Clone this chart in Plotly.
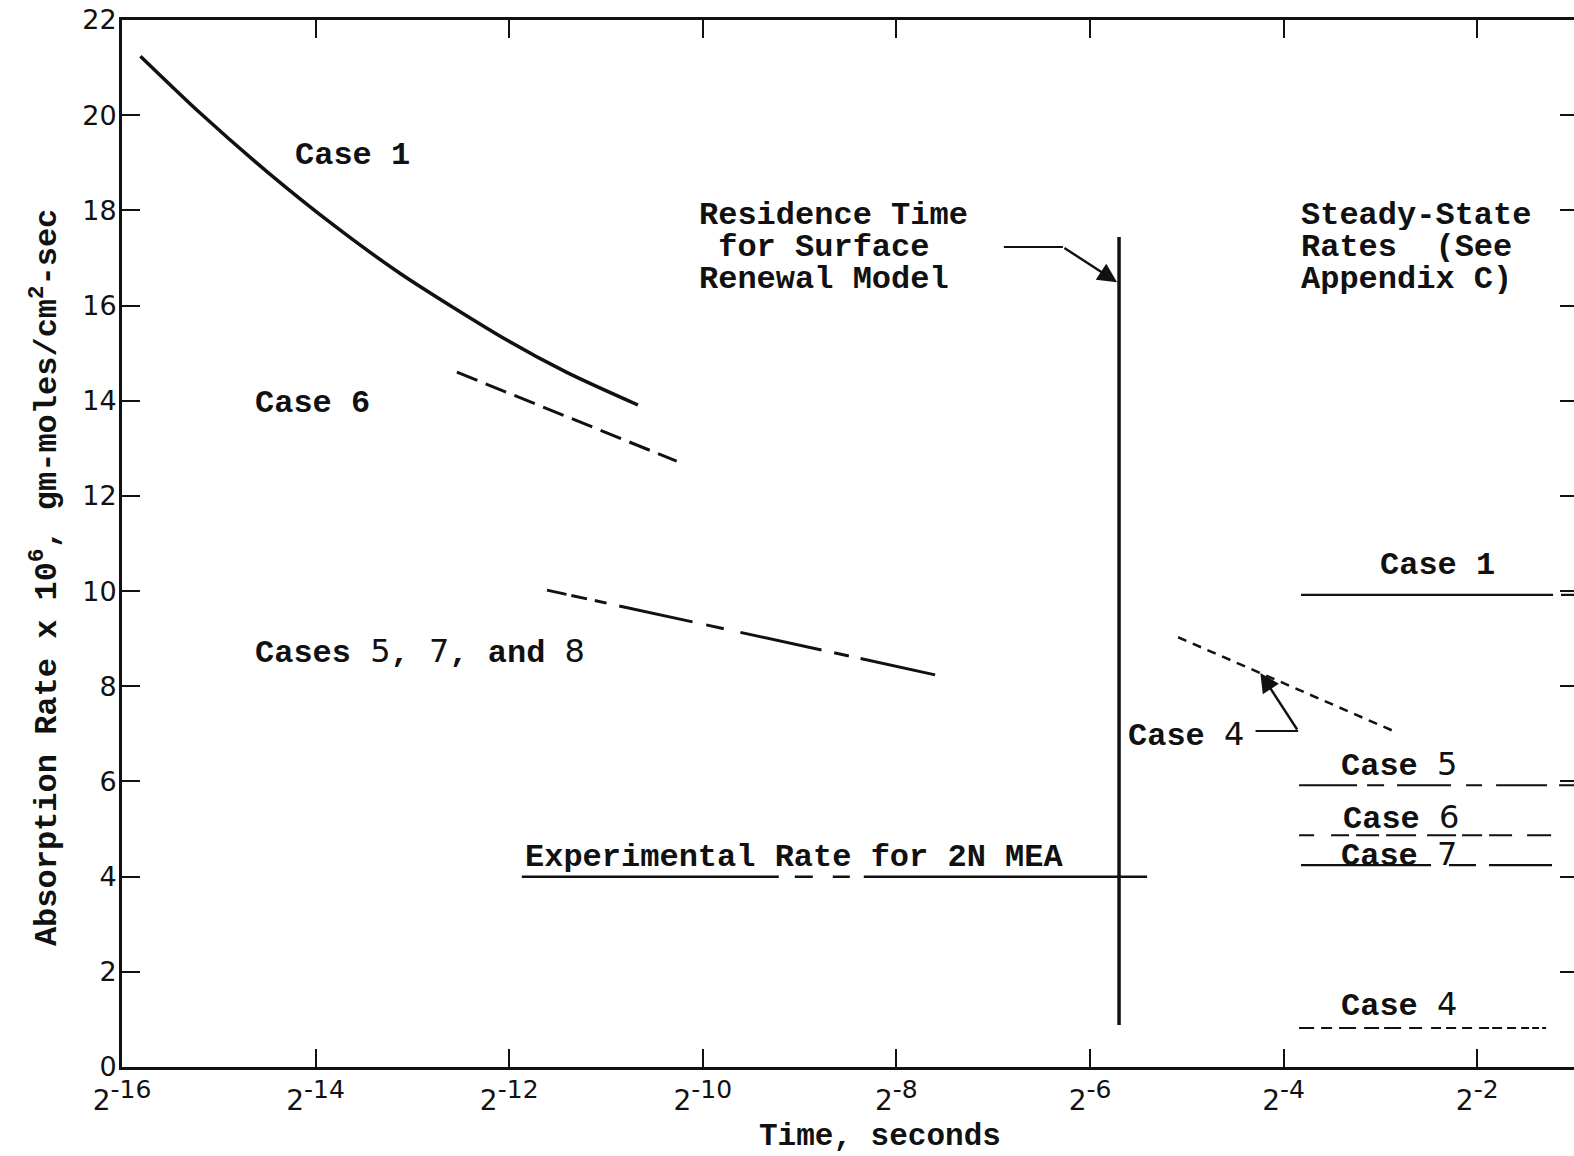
import numpy as np
import plotly.graph_objects as go

# ---- data (time given as log2 of seconds, rates x 10^6 gm-moles/cm^2-sec) ----
case1_log2t = [-15.81, -15.19, -14.50, -13.82, -13.13, -12.02, -11.40, -10.67]
case1_rate = [21.24, 20.04, 18.81, 17.70, 16.68, 15.27, 14.59, 13.91]

case6_log2t = [-12.54, -10.27]
case6_rate = [14.60, 12.73]

case578_log2t = [-11.61, -7.60]
case578_rate = [10.02, 8.24]

case4_log2t = [-5.09, -2.82]
case4_rate = [9.03, 7.02]

exp_log2t = [-11.87, -5.41]
exp_rate = [4.0, 4.0]

residence_log2t = [-5.70, -5.70]
residence_rate = [17.44, 0.88]

steady_cases = ["Case 1", "Case 5", "Case 6", "Case 7", "Case 4"]
steady_rate = [9.92, 5.92, 4.87, 4.24, 0.82]
steady_start = [-3.82, -3.84, -3.84, -3.82, -3.84]
steady_end = [-1.0, -1.0, -1.23, -1.22, -1.27]

xtick_exp = [-16, -14, -12, -10, -8, -6, -4, -2]
ytick_vals = list(range(0, 23, 2))

# ---- styling ----
MONO = "Liberation Mono"
HAND = "DejaVu Sans"
INK = "#111111"

steady_dash = {
    "Case 1": "252px,8px,300px",
    "Case 5": "58px,10px,17px,13px,54px,15px,16px,14px,51px,12px,40px",
    "Case 6": "15px,17px,18px,7px,23px,7px,30px,11px,29px,6px,20px,7px,23px,15px,24px",
    "Case 7": "130px,18px,27px,13px,63px",
    "Case 4": ("15px,7px,11px,7px,17px,8px,15px,5px,17px,8px,13px,9px,10px,5px,"
               "10px,6px,10px,7px,10px,3px,10px,5px,9px,5px,8px,3px,7px,3px,4px,3px"),
}


def sec(log2t):
    return np.power(2.0, np.asarray(log2t, dtype=float))


def lx(log2t):
    # annotation x position on a log axis (log10 units)
    return float(log2t) * np.log10(2.0)


def hand(d):
    return f'<span style="font-family:{HAND};font-weight:normal">{d}</span>'


fig = go.Figure()


def line(log2t, rate, width=3, dash="solid", shape="linear"):
    fig.add_trace(go.Scatter(
        x=sec(log2t), y=rate, mode="lines",
        line=dict(color=INK, width=width, dash=dash, shape=shape, smoothing=0.8),
        hoverinfo="skip", showlegend=False,
    ))


line(case1_log2t, case1_rate, width=3.5, shape="spline")
line(case6_log2t, case6_rate, width=3, dash="22px,9px")
line(case578_log2t, case578_rate, width=3,
     dash="20px,5px,16px,8px,12px,13px,75px,14px,18px,17px,83px,13px,15px,12px,80px,20px")
line(case4_log2t, case4_rate, width=2.5, dash="9px,7px")
line(exp_log2t, exp_rate, width=2.5, dash="257px,16px,18px,20px,17px,14px,600px,10px")
line(residence_log2t, residence_rate, width=3.5)

for name, r, a, b in zip(steady_cases, steady_rate, steady_start, steady_end):
    line([a, b], [r, r], width=2.2, dash=steady_dash[name])

# leader lines for the arrows
line([-6.89, -6.28], [17.23, 17.23], width=2)
line([-4.29, -3.85], [7.06, 7.06], width=2)

# empty trace carrying the right-hand tick axis
fig.add_trace(go.Scatter(x=[], y=[], yaxis="y2", showlegend=False, hoverinfo="skip"))

arrows = [
    ((-5.72, 16.49), (-6.28, 17.23)),
    ((-4.24, 8.28), (-3.85, 7.06)),
]
for (tx, ty), (sx, sy) in arrows:
    fig.add_annotation(
        x=lx(tx), y=ty, ax=lx(sx), ay=sy, xref="x", yref="y", axref="x", ayref="y",
        text="", showarrow=True, arrowhead=2, arrowsize=1.6, arrowwidth=2.4,
        arrowcolor=INK, standoff=0,
    )

labels = [
    ("Case 1", -14.23, 19.16),
    ("Case 6", -14.65, 13.95),
    ("Cases " + hand("5") + ", " + hand("7") + ", and " + hand("8"), -14.65, 8.72),
    ("Residence Time", -10.06, 17.90),
    ("\u00a0for Surface", -10.06, 17.23),
    ("Renewal Model", -10.06, 16.55),
    ("Steady-State", -3.84, 17.90),
    ("Rates\u00a0\u00a0(See", -3.84, 17.23),
    ("Appendix C)", -3.84, 16.55),
    ("Case " + hand("4"), -5.63, 6.97),
    ("Case 1", -3.03, 10.55),
    ("Case " + hand("5"), -3.43, 6.34),
    ("Case " + hand("6"), -3.41, 5.23),
    ("Case " + hand("7"), -3.43, 4.45),
    ("Case " + hand("4"), -3.43, 1.30),
    ("Experimental Rate for 2N MEA", -11.86, 4.41),
]
for text, lt, r in labels:
    fig.add_annotation(
        x=lx(lt), y=r, xref="x", yref="y", text=text, showarrow=False,
        xanchor="left", yanchor="middle", align="left", height=30,
        font=dict(family=MONO, size=32, color=INK, weight="bold"),
    )

# axis titles
fig.add_annotation(
    x=-0.053, y=0.467, xref="paper", yref="paper", textangle=-90,
    text="Absorption Rate x 10<sup>6</sup>, gm-moles/cm<sup>2</sup>-sec",
    showarrow=False, xanchor="center", yanchor="middle",
    font=dict(family=MONO, size=32, color=INK, weight="bold"),
)
fig.add_annotation(
    x=0.522, y=-0.066, xref="paper", yref="paper", text="Time, seconds",
    showarrow=False, xanchor="center", yanchor="middle",
    font=dict(family=MONO, size=31, color=INK, weight="bold"),
)

fig.update_layout(
    width=1574, height=1156,
    margin=dict(l=122, r=0, t=20, b=89),
    paper_bgcolor="white", plot_bgcolor="white",
    showlegend=False,
    xaxis=dict(
        type="log",
        range=[lx(-16), lx(-1.0)],
        tickvals=list(sec(xtick_exp)),
        ticktext=[f"2<sup><span style='font-size:25px'>{e}</span></sup>" for e in xtick_exp],
        ticks="inside", ticklen=18, tickwidth=2, tickcolor=INK,
        showline=True, linewidth=3, linecolor=INK, mirror="ticks",
        showgrid=False, zeroline=False, ticklabelstandoff=6,
        tickfont=dict(family=HAND, size=28, color=INK),
    ),
    yaxis=dict(
        range=[0, 22],
        tickvals=ytick_vals,
        ticks="inside", ticklen=18, tickwidth=2, tickcolor=INK,
        showline=True, linewidth=3, linecolor=INK, mirror=False,
        showgrid=False, zeroline=False, ticklabelstandoff=-3,
        tickfont=dict(family=HAND, size=27, color=INK),
    ),
    yaxis2=dict(
        overlaying="y", side="right", anchor="x",
        range=[0, 22], tickvals=ytick_vals,
        ticks="inside", ticklen=14, tickwidth=2, tickcolor=INK,
        showline=False, showticklabels=False, showgrid=False, zeroline=False,
    ),
)

fig.write_html("out.html")
